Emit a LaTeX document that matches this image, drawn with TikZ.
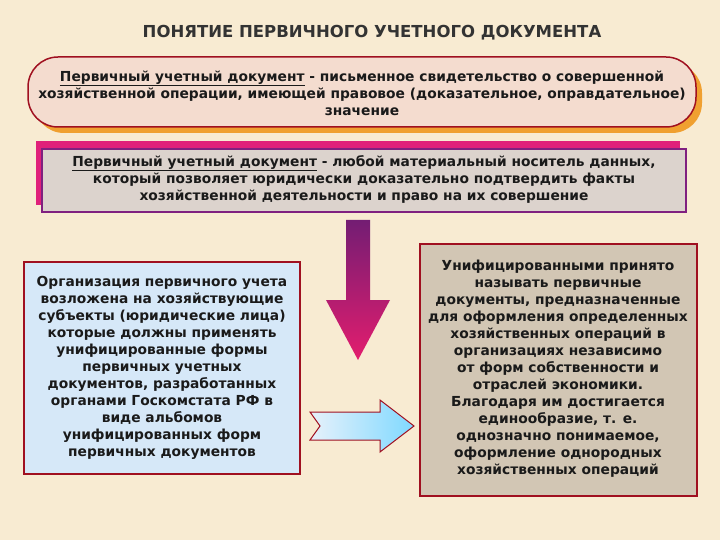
\documentclass[tikz,border=0pt]{standalone}
\usepackage{fontspec}
\setmainfont{DejaVu Sans}
\usetikzlibrary{shadings}
\definecolor{bg}{HTML}{F8EBD2}
\definecolor{boxred}{HTML}{A01020}
\definecolor{shad}{HTML}{F0A030}
\definecolor{pinkf}{HTML}{F4DCCF}
\definecolor{grayf}{HTML}{DCD3CD}
\definecolor{purp}{HTML}{802080}
\definecolor{mag}{HTML}{E0207A}
\definecolor{bluef}{HTML}{D6E8F8}
\definecolor{tanf}{HTML}{D2C6B4}
\definecolor{txt}{HTML}{1A1A1A}
\tikzset{
  txt/.style={font=\bfseries\fontsize{13.8}{17}\selectfont, text=txt, align=center},
}
\begin{document}
\begin{tikzpicture}[x=1pt,y=-1pt]
\useasboundingbox (0,0) rectangle (720,540);
\fill[bg] (0,0) rectangle (720,540);
\node[txt, font=\bfseries\fontsize{16.5}{18}\selectfont, text=black!80] (title) at (372,33) {ПОНЯТИЕ ПЕРВИЧНОГО УЧЕТНОГО ДОКУМЕНТА};
% box 1
\fill[shad, rounded corners=30pt] (34,63) rectangle (702,133);
\draw[boxred, line width=1.5pt, fill=pinkf, rounded corners=30pt] (28,57) rectangle (696,127);
\node[txt] (b1) at (362,93) {\underline{Первичный учетный документ} - письменное свидетельство о совершенной\\хозяйственной операции, имеющей правовое (доказательное, оправдательное)\\значение};
% box 2
\fill[mag] (36,141) rectangle (680,205);
\draw[purp, line width=1.2pt, fill=grayf] (42,149) rectangle (686,212);
\node[txt] (b2) at (364,179) {\underline{Первичный учетный документ} - любой материальный носитель данных,\\который позволяет юридически доказательно подтвердить факты\\хозяйственной деятельности и право на их совершение};
% down arrow
\shade[top color=purp!90!black, bottom color=mag!90!red]
  (346,220) -- (370,220) -- (370,300) -- (390,300) -- (358,360) -- (326,300) -- (346,300) -- cycle;
\coordinate (dtip) at (358,360);
% left box
\draw[boxred, line width=1.2pt, fill=bluef] (24,262) rectangle (300,474);
\node[txt] (lb) at (162,368) {Организация первичного учета\\возложена на хозяйствующие\\субъекты (юридические лица)\\которые должны применять\\унифицированные формы\\первичных учетных\\документов, разработанных\\органами Госкомстата РФ в\\виде альбомов\\унифицированных форм\\первичных документов};
% right box
\draw[boxred, line width=1.2pt, fill=tanf] (420,244) rectangle (697,496);
\node[txt] (rb) at (558,369) {Унифицированными принято\\называть первичные\\документы, предназначенные\\для оформления определенных\\хозяйственных операций в\\организациях независимо\\от форм собственности и\\отраслей экономики.\\Благодаря им достигается\\единообразие, т. е.\\однозначно понимаемое,\\оформление однородных\\хозяйственных операций};
% right arrow
\shade[left color=bluef!60!white, right color=blue!30!cyan!50, draw=boxred, line width=1pt]
  (310,412) -- (380,412) -- (380,400) -- (414,426) -- (380,452) -- (380,440) -- (310,440) -- (320,426) -- cycle;
\end{tikzpicture}
\end{document}
